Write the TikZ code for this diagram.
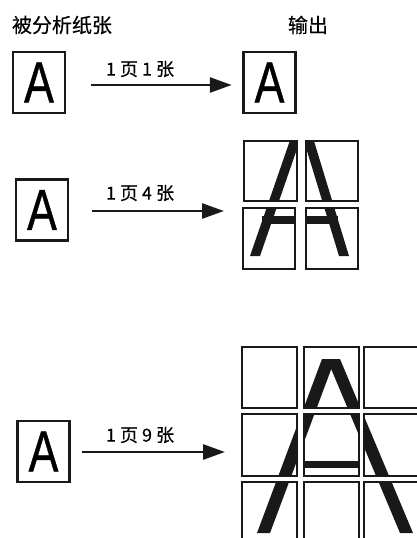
\documentclass[tikz,border=0pt]{standalone}
\usepackage{fontspec}
\setmainfont{Liberation Sans}
\newfontfamily\cjkfont{Noto Sans CJK SC}[FakeBold=0.4]
\newfontfamily\pagefont{Liberation Sans}[FakeBold=0.8]
\usepackage{tikz}
\usetikzlibrary{arrows.meta}
\definecolor{inkblack}{rgb}{0.1,0.1,0.1}

\begin{document}
\begin{tikzpicture}[line cap=butt,line join=miter,x=1pt,y=-1pt,
  pagebox/.style={draw=inkblack,line width=2.5pt,minimum width=52pt,minimum height=61pt,inner sep=0pt,font=\pagefont\fontsize{58}{58}\selectfont},
  tilebox/.style={draw=inkblack,line width=2.5pt},
  feed/.style={draw=inkblack,line width=2.8pt,-{Triangle[length=22pt,width=15pt]}},
  feedlabel/.style={font=\cjkfont\fontsize{18}{18}\selectfont},
  headline/.style={font=\cjkfont\fontsize{20}{20}\selectfont}]
\useasboundingbox (0,0) rectangle (417,538);
\clip (0,0) rectangle (417,538);
\node[headline] (headin) at (62,25) {被分析纸张};
\node[headline] (headout) at (308,25) {输出};
% 1 page 1 sheet
\node[pagebox] (src1) at (39,82.5) {\scalebox{0.77}[1]{A}};
\node[pagebox] (out1) at (269.5,82.5) {\scalebox{0.77}[1]{A}};
\draw [feed] ([xshift=25pt,yshift=-2.5pt]src1.east) -- ([xshift=-10.5pt,yshift=-2.5pt]out1.west);
\node[feedlabel] (lab1) at (140,69) {1 页 1 张};
% 1 page 4 sheets
\node[pagebox] (src2) at (42,210) {\scalebox{0.77}[1]{A}};
\coordinate (quadin) at (224,211);
\draw [feed] ([xshift=23pt,yshift=-1pt]src2.east) -- (quadin);
\node[feedlabel] (lab2) at (140,193) {1 页 4 张};
\fill[inkblack] (250,256) -- (297,120) -- (307,120) -- (260,256) -- cycle;
\fill[inkblack] (339,256) -- (297.6,120) -- (307.6,120) -- (349,256) -- cycle;
\fill[inkblack] (262,216) rectangle (338,224);
\fill[white,even odd rule] (235,118) rectangle (366,276) (244,141) rectangle (297,201) (306,141) rectangle (358,201) (243,208) rectangle (295,269) (306,208) rectangle (358,269);
\draw [tilebox] (244,141) rectangle (297,201);
\draw [tilebox] (306,141) rectangle (358,201);
\draw [tilebox] (243,208) rectangle (295,269);
\draw [tilebox] (306,208) rectangle (358,269);
% 1 page 9 sheets
\node[pagebox] (src3) at (43.5,451.5) {\scalebox{0.77}[1]{A}};
\coordinate (gridin) at (225,452);
\draw [feed] ([xshift=11pt,yshift=-0.5pt]src3.east) -- (gridin);
\node[feedlabel] (lab3) at (140,435) {1 页 9 张};
\fill[inkblack] (257,533) -- (322,359) -- (335,359) -- (270,533) -- cycle;
\fill[inkblack] (327,359) -- (340,359) -- (413,533) -- (400,533) -- cycle;
\fill[inkblack] (300,461) rectangle (362,468);
\fill[white,even odd rule] (234,340) rectangle (420,545) (242,347) rectangle (297,408) (304,347) rectangle (359,408) (364,347) rectangle (419,408) (242,414) rectangle (297,476) (304,414) rectangle (359,476) (364,414) rectangle (419,476) (242,482) rectangle (297,543) (304,482) rectangle (359,543) (364,482) rectangle (419,543);
\draw [tilebox] (242,347) rectangle (297,408);
\draw [tilebox] (304,347) rectangle (359,408);
\draw [tilebox] (364,347) rectangle (419,408);
\draw [tilebox] (242,414) rectangle (297,476);
\draw [tilebox] (304,414) rectangle (359,476);
\draw [tilebox] (364,414) rectangle (419,476);
\draw [tilebox] (242,482) rectangle (297,543);
\draw [tilebox] (304,482) rectangle (359,543);
\draw [tilebox] (364,482) rectangle (419,543);
\end{tikzpicture}
\end{document}
